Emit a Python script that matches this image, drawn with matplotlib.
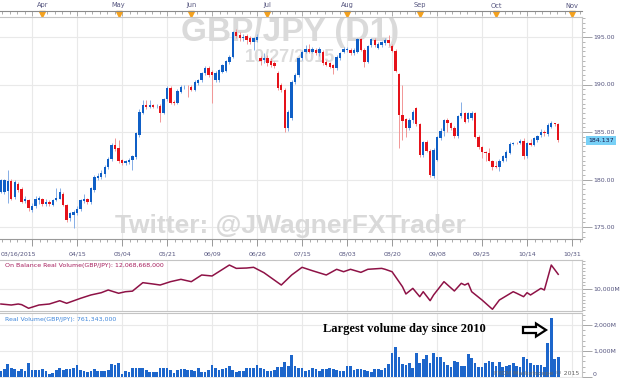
import matplotlib
matplotlib.use("Agg")
import matplotlib.pyplot as plt
import matplotlib.transforms as mtransforms
from matplotlib.patches import Polygon
from matplotlib.ticker import FixedLocator, MultipleLocator
import numpy as np

# daily GBP/JPY candles, one per weekday from 2015-03-16 to 2015-10-27
start_date = "2015-03-16"

opens = [
    178.72, 178.70, 178.80, 179.88, 178.20, 179.50, 179.00, 177.70, 177.84, 176.80,
    177.20, 177.85, 177.90, 177.40, 177.60, 177.30, 177.85, 178.00, 178.50, 177.30,
    175.90, 176.26, 176.50, 176.90, 177.70, 177.95, 177.60, 178.90, 180.20, 180.30,
    180.60, 181.30, 182.20, 183.60, 183.28, 182.05, 181.70, 181.80, 182.05, 182.40,
    184.68, 187.04, 187.84, 187.67, 187.84, 187.70, 187.75, 187.04, 188.44, 189.60,
    188.20, 188.02, 189.24, 189.70, 189.77, 189.77, 189.42, 190.19, 190.47, 191.17,
    191.70, 191.35, 190.47, 190.47, 191.35, 191.45, 192.40, 192.93, 195.50, 195.20,
    194.90, 195.10, 194.90, 194.50, 194.70, 192.82, 192.56, 192.75, 192.47, 192.30,
    191.17, 189.90, 189.42, 185.39, 186.44, 190.30, 191.00, 192.75, 193.45, 193.74,
    193.45, 193.60, 193.28, 193.45, 192.40, 192.23, 192.05, 191.70, 192.75, 193.45,
    193.60, 193.60, 193.28, 193.45, 194.79, 193.63, 192.40, 194.16, 194.68, 193.88,
    194.16, 194.33, 194.68, 194.05, 193.56, 191.10, 186.79, 186.33, 185.39, 186.26,
    187.49, 185.84, 182.58, 183.98, 183.03, 180.37, 182.05, 184.33, 185.14, 186.26,
    185.98, 185.39, 184.58, 186.68, 186.96, 186.33, 186.44, 186.96, 184.51, 183.39,
    182.93, 182.82, 181.98, 181.42, 181.28, 181.98, 182.23, 182.82, 183.74, 183.88,
    183.88, 184.09, 182.47, 183.81, 183.63, 184.16, 184.68, 185.04, 184.79, 185.56,
    185.91, 185.81,
]
highs = [
    180.10, 180.10, 181.00, 180.10, 180.00, 179.70, 179.20, 178.30, 178.00, 177.50,
    178.30, 178.30, 178.10, 177.90, 177.80, 178.00, 179.07, 179.10, 178.70, 177.40,
    176.60, 176.80, 177.20, 178.00, 178.50, 178.10, 179.20, 180.50, 180.70, 181.00,
    181.50, 182.40, 183.80, 184.33, 184.20, 182.20, 182.10, 182.30, 182.60, 185.00,
    187.40, 188.37, 188.37, 188.37, 188.00, 187.90, 187.90, 188.60, 189.80, 189.80,
    188.40, 189.50, 190.00, 190.00, 189.95, 189.90, 190.50, 190.60, 191.30, 191.90,
    191.90, 191.50, 191.40, 191.60, 192.20, 192.60, 193.10, 195.60, 195.84, 195.50,
    195.30, 195.30, 195.10, 195.00, 195.30, 193.00, 193.30, 193.10, 192.80, 192.50,
    191.40, 190.20, 189.60, 187.30, 190.50, 191.20, 192.90, 193.60, 194.20, 194.30,
    194.00, 193.80, 193.90, 193.60, 192.60, 192.40, 192.20, 193.10, 193.40, 193.90,
    193.90, 193.80, 193.80, 194.90, 194.90, 193.80, 194.20, 194.90, 194.90, 194.50,
    194.60, 194.90, 195.20, 194.30, 193.70, 191.20, 189.95, 186.50, 186.50, 187.30,
    187.60, 186.00, 184.10, 184.20, 183.20, 183.30, 184.60, 185.40, 186.40, 186.50,
    186.10, 185.60, 186.80, 188.19, 187.10, 187.10, 187.20, 187.10, 184.70, 183.50,
    183.00, 183.30, 182.10, 182.00, 182.20, 182.60, 183.10, 183.90, 184.00, 184.00,
    184.30, 184.40, 183.90, 184.30, 184.50, 184.70, 185.30, 185.20, 185.90, 186.20,
    186.00, 185.90,
]
lows = [
    178.60, 178.50, 177.50, 177.80, 178.00, 178.70, 177.50, 177.50, 176.70, 176.60,
    177.00, 177.40, 177.20, 177.20, 177.20, 177.20, 177.70, 177.90, 177.20, 175.50,
    175.60, 174.86, 176.30, 176.70, 177.50, 177.40, 177.40, 178.70, 180.00, 180.10,
    180.30, 181.10, 182.00, 183.00, 181.70, 181.50, 181.50, 181.60, 181.00, 182.20,
    184.50, 186.90, 187.40, 187.50, 187.50, 187.50, 186.10, 186.90, 188.30, 187.90,
    187.80, 187.90, 189.10, 189.50, 188.70, 189.30, 189.30, 190.00, 190.30, 191.00,
    190.80, 188.07, 190.30, 190.30, 191.20, 191.30, 192.20, 192.80, 194.90, 194.60,
    194.60, 194.30, 194.30, 193.60, 194.50, 192.05, 192.30, 191.90, 191.80, 191.70,
    189.40, 189.20, 185.04, 185.10, 186.30, 190.10, 190.80, 192.60, 193.30, 193.30,
    193.30, 193.10, 193.00, 192.10, 191.90, 191.70, 191.07, 191.50, 192.60, 193.30,
    193.40, 193.10, 193.10, 193.30, 193.50, 191.88, 192.30, 194.00, 194.00, 193.70,
    194.00, 194.20, 194.10, 193.40, 191.30, 183.28, 184.16, 184.50, 185.20, 186.00,
    185.60, 182.40, 182.40, 182.90, 180.30, 180.20, 181.90, 184.20, 184.60, 185.00,
    185.20, 184.40, 184.40, 186.50, 185.90, 186.10, 186.30, 184.40, 183.20, 182.30,
    181.90, 181.90, 181.00, 181.20, 180.90, 181.80, 182.00, 182.70, 183.60, 183.70,
    183.70, 182.20, 182.30, 183.50, 183.50, 184.00, 184.50, 184.60, 184.60, 185.40,
    185.60, 183.90,
]
closes = [
    179.95, 179.90, 179.85, 178.00, 179.70, 178.90, 177.67, 177.90, 176.96, 177.20,
    178.00, 178.00, 177.40, 177.60, 177.45, 177.85, 178.10, 178.70, 177.30, 175.74,
    176.44, 176.60, 176.90, 177.80, 177.95, 177.60, 179.07, 180.30, 180.40, 180.65,
    181.35, 182.20, 183.60, 183.20, 181.90, 181.70, 181.90, 182.05, 182.47, 184.86,
    187.14, 187.84, 187.60, 187.84, 187.67, 187.75, 187.04, 188.44, 189.60, 188.09,
    188.02, 189.35, 189.77, 189.77, 189.70, 189.42, 190.30, 190.47, 191.17, 191.70,
    191.00, 191.00, 191.24, 191.50, 192.05, 192.50, 192.93, 195.50, 195.10, 194.86,
    195.05, 194.70, 194.50, 194.85, 195.03, 192.47, 192.82, 192.23, 192.05, 191.90,
    189.60, 189.40, 185.39, 187.14, 190.30, 191.00, 192.75, 193.45, 193.74, 193.45,
    193.74, 193.28, 193.74, 192.23, 192.05, 191.88, 191.70, 192.93, 193.28, 193.74,
    193.74, 193.28, 193.60, 194.79, 193.63, 192.40, 194.10, 194.79, 194.16, 194.30,
    194.50, 194.68, 194.33, 193.56, 191.45, 186.79, 186.19, 185.39, 186.26, 187.14,
    185.84, 182.58, 183.98, 183.03, 180.47, 183.10, 184.44, 185.14, 186.26, 185.98,
    185.39, 184.58, 186.68, 186.96, 186.09, 186.96, 186.96, 184.51, 183.39, 182.93,
    182.82, 181.98, 181.35, 181.35, 181.98, 182.47, 182.93, 183.74, 183.88, 183.81,
    184.09, 182.47, 183.81, 183.63, 184.33, 184.58, 185.04, 184.86, 185.74, 185.98,
    185.81, 184.14,
]
last_price = 184.137

# real volume, millions
volume_m = [
    243, 295, 500, 333, 308, 243, 295, 243, 551, 269,
    269, 269, 295, 243, 115, 167, 269, 346, 269, 321,
    295, 333, 449, 269, 243, 205, 243, 295, 243, 243,
    243, 269, 500, 462, 526, 115, 243, 205, 333, 333,
    333, 333, 269, 205, 205, 205, 333, 359, 359, 269,
    141, 269, 308, 308, 269, 269, 243, 333, 205,
    205, 269, 462, 359, 269, 295, 333, 423, 269, 205,
    243, 243, 333, 333, 333, 462, 359, 295, 243, 243,
    269, 397, 397, 590, 423, 846, 423, 359,
    333, 243, 269, 333, 308, 243, 308, 308, 333, 295,
    269, 243, 243, 436, 436, 269, 295, 295, 269, 243,
    205, 308, 308, 269, 333, 500, 910, 1167, 756, 500,
    462, 526, 333, 936, 551, 679, 846, 526, 910, 782,
    756, 590, 462, 397, 628, 590, 423, 423, 872, 718,
    551, 397, 397, 551, 628, 564, 423, 590, 397, 423,
    462, 551, 423, 397, 756, 679, 551, 462, 462, 462,
    397, 1295, 2256, 705, 761,
]

# on balance real volume (bar index, millions)
obv_bar = [0, 3, 5, 6, 8, 11, 14, 17, 19, 23, 26, 29, 31, 34, 36, 38, 41, 44, 46, 49,
           52, 55, 58, 61, 66, 68, 71, 73, 76, 81, 84, 87, 90, 94, 97, 99, 101, 104,
           106, 110, 111, 113, 116, 117, 119, 121, 122, 124, 125, 128, 131, 133, 134,
           135, 136, 139, 142, 144, 148, 149, 151, 152, 153, 156, 157, 159, 161]
obv_m = [7890, 7750, 7890, 7800, 7290, 7750, 7890, 8350, 7990, 8690, 9160, 9480, 9860,
         9400, 9620, 9700, 10890, 10700, 10560, 11030, 11360, 11030, 11970, 11830, 13370,
         12900, 12950, 13050, 12290, 10560, 11970, 13050, 12570, 11970, 12770, 12430,
         12770, 12340, 12770, 12900, 12770, 12430, 10330, 9300, 10090, 8920, 9620, 8360,
         9160, 11030, 9720, 10800, 10560, 10800, 9620, 8450, 7150, 8450, 9620, 9400,
         8920, 9480, 9160, 10090, 9860, 13370, 12068]

grid_dates = ["2015-03-27", "2015-04-15", "2015-05-04", "2015-05-21", "2015-06-09",
              "2015-06-26", "2015-07-15", "2015-08-03", "2015-08-20", "2015-09-08",
              "2015-09-25", "2015-10-14", "2015-10-31"]
date_labels = ["", "04/15", "05/04", "05/21", "06/09", "06/26", "07/15", "08/03",
               "08/20", "09/08", "09/25", "10/14", "10/31"]
month_dates = ["2015-04-01", "2015-05-01", "2015-06-01", "2015-07-01", "2015-08-03",
               "2015-09-01", "2015-10-01", "2015-11-02"]
month_names = ["Apr", "May", "Jun", "Jul", "Aug", "Sep", "Oct", "Nov"]
price_ticks = [175, 180, 185, 190, 195]

W, H = 623, 378
BAR_PX = 45 / 13   # pixels per daily bar
FIRST_PX = 0.9     # pixel centre of first bar
RIGHT_PX = 582     # right edge of the panels
SMALL = 4.5
LABEL_C = "#55557f"
SPINE_C = "#c4c4c4"
GRID_C = "#e9e9e9"


def fx(px):
    return px / W


def fy(py):
    return 1 - py / H


def bar_index(dates):
    return np.busday_count(start_date, dates)


plt.rcParams["font.family"] = ["DejaVu Sans"]

n = len(closes)
idx = np.arange(n)
o, hi, lo, c = (np.array(a, dtype=float) for a in (opens, highs, lows, closes))
up = c >= o

majors = bar_index(grid_dates)
step = 13 / 6
minors = [m + k * step for m in np.r_[majors[0] - 13, majors] for k in range(1, 6)]
xlim = (-FIRST_PX / BAR_PX, (RIGHT_PX - FIRST_PX) / BAR_PX)

fig = plt.figure(figsize=(W / 100, H / 100), dpi=100)
ax_top = fig.add_axes([0, fy(17), fx(RIGHT_PX), 6 / H])
ax = fig.add_axes([0, fy(239), fx(RIGHT_PX), 222 / H])
ax_obv = fig.add_axes([0, fy(311), fx(RIGHT_PX), 51 / H])
ax_vol = fig.add_axes([0, 0, fx(RIGHT_PX), 65 / H])

for a in (ax, ax_obv, ax_vol):
    a.set_xlim(*xlim)
    a.set_xticks(majors)
    a.xaxis.set_minor_locator(FixedLocator(minors))
    a.grid(True, axis="both", which="major", color=GRID_C, lw=0.8)
    a.set_axisbelow(True)
    a.yaxis.tick_right()
    a.spines["left"].set_visible(False)
    for s in ("top", "bottom", "right"):
        a.spines[s].set_color(SPINE_C)
    a.tick_params(axis="y", which="major", length=7, width=0.6, color="#999999",
                  pad=1, labelsize=SMALL, labelcolor=LABEL_C)
    a.tick_params(axis="y", which="minor", length=2.5, width=0.5, color="#999999")

# price panel
ax.set_ylim(195 - (239 - 37) / 9.5, 195 + 20 / 9.5)
ax.set_yticks(price_ticks)
ax.set_yticklabels([f"{v:.2f}" for v in price_ticks])
ax.yaxis.set_minor_locator(MultipleLocator(0.5))
ax.set_xticklabels(date_labels)
ax.tick_params(axis="x", which="major", length=5, width=0.6, color="#888888",
               pad=4, labelsize=SMALL, labelcolor=LABEL_C)
ax.tick_params(axis="x", which="minor", length=2.2, width=0.5, color="#888888")
ax.spines["bottom"].set_color("#9a9a9a")
fig.text(fx(1), fy(254), "03/16/2015", fontsize=SMALL, color=LABEL_C,
         ha="left", va="center")

ax.vlines(idx[up], lo[up], hi[up], color="#86aee6", lw=0.7, zorder=2)
ax.vlines(idx[~up], lo[~up], hi[~up], color="#f29696", lw=0.7, zorder=2)
body = np.maximum(np.abs(c - o), 0.08)
ax.bar(idx, body, bottom=np.minimum(o, c), width=0.68, linewidth=0,
       color=np.where(up, "#0f5fc6", "#e5121a"), zorder=3)

ax.text(fx(290), fy(33), "GBP/JPY (D1)", transform=fig.transFigure,
        family="Liberation Sans", fontsize=24, fontweight="bold", color="#dadada",
        ha="center", va="center", zorder=1)
ax.text(fx(290), fy(57), "10/27/2015", transform=fig.transFigure,
        family="Liberation Sans", fontsize=13, fontweight="bold", color="#dcdcdc",
        ha="center", va="center", zorder=1)
ax.text(fx(290), fy(226), "Twitter: @JWagnerFXTrader", transform=fig.transFigure,
        family="Liberation Sans", fontsize=19, fontweight="bold", color="#d9d9d9",
        ha="center", va="center", zorder=1)

price_tr = mtransforms.blended_transform_factory(ax.transAxes, ax.transData)
ax.text(1.011, last_price, f"{last_price:.3f}", transform=price_tr, fontsize=SMALL,
        color="#1b1b4d", ha="left", va="center", clip_on=False,
        bbox=dict(boxstyle="square,pad=0.35", fc="#78d0f6", ec="none"))

# top month ruler
ax_top.set_xlim(*xlim)
ax_top.set_ylim(0, 1)
for s in ("left", "right", "bottom"):
    ax_top.spines[s].set_visible(False)
ax_top.spines["top"].set_color("#8a8a8a")
ax_top.xaxis.tick_top()
ax_top.set_xticks(majors)
ax_top.xaxis.set_minor_locator(FixedLocator(minors))
ax_top.tick_params(axis="x", which="both", direction="in", labeltop=False,
                   color="#8a8a8a", width=0.5)
ax_top.tick_params(axis="x", which="major", length=3.5)
ax_top.tick_params(axis="x", which="minor", length=2)
ax_top.set_yticks([])
month_idx = bar_index(month_dates)
ax_top.plot(month_idx, np.full(len(month_idx), 0.45), "v", color="#f4a11d",
            ms=4, clip_on=False)
month_tr = mtransforms.blended_transform_factory(ax_top.transData, fig.transFigure)
for mi, name in zip(month_idx, month_names):
    ax_top.text(mi, fy(5.5), name, transform=month_tr, fontsize=SMALL + 0.3,
                color=LABEL_C, ha="center", va="center", clip_on=False)

# on balance real volume
ax_obv.plot(obv_bar, obv_m, color="#8e1246", lw=1.1)
ax_obv.set_ylim(10000 - 22 * 140.6, 10000 + 29 * 140.6)
ax_obv.set_yticks([10000])
ax_obv.set_yticklabels(["10,000M"])
ax_obv.yaxis.set_minor_locator(MultipleLocator(500))
ax_obv.tick_params(axis="x", which="both", length=0, labelbottom=False)
fig.text(fx(5), fy(266), "On Balance Real Volume(GBP/JPY): 12,068,668,000",
         fontsize=SMALL, color="#a61c5c", ha="left", va="center")

# real volume
ax_vol.bar(idx, volume_m, width=0.78, color="#1d66cb", linewidth=0, zorder=2)
ax_vol.set_ylim(-1000 / 26, (377 - 313) / 26 * 1000)
ax_vol.set_yticks([0, 1000, 2000])
ax_vol.set_yticklabels(["0", "1,000M", "2,000M"])
ax_vol.get_yticklabels()[0].set_verticalalignment("bottom")
ax_vol.yaxis.set_minor_locator(MultipleLocator(200))
ax_vol.tick_params(axis="x", which="both", length=0, labelbottom=False)
ax_vol.spines["bottom"].set_visible(False)
fig.text(fx(5), fy(319), "Real Volume(GBP/JPY): 761,343,000",
         fontsize=SMALL, color="#3f86da", ha="left", va="center")

fig.text(fx(404), fy(329), "Largest volume day since 2010", family="Liberation Serif",
         fontsize=9, fontweight="bold", color="black", ha="center", va="center")
arrow_px = [(523, 327), (536, 327), (536, 323.5), (546, 330), (536, 336.5),
            (536, 333), (523, 333)]
fig.add_artist(Polygon([(fx(x), fy(y)) for x, y in arrow_px], closed=True,
                       transform=fig.transFigure, fc="white", ec="black", lw=1.6))
fig.text(fx(537), fy(373), "FXCM Marketscope © 2015", fontsize=SMALL,
         color="#666666", ha="center", va="center")

fig.savefig("out.png", dpi=100)
